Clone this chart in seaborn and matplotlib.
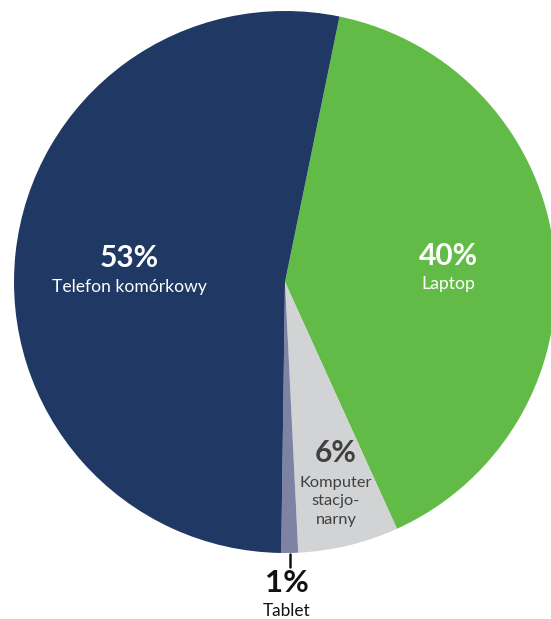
import matplotlib
matplotlib.use("Agg")
import matplotlib.pyplot as plt
import seaborn as sns

# Device shares (percent), drawn clockwise starting with Laptop
categories = ["Laptop", "Komputer\nstacjo-\nnarny", "Tablet", "Telefon komórkowy"]
shares = [40, 6, 1, 53]
colors = ["#63BB47", "#D2D3D5", "#7E83A4", "#1F3864"]

sns.set_theme(style="white")
plt.rcParams["font.family"] = ["Lato", "DejaVu Sans"]

W, H, DPI = 551, 619, 100
fig = plt.figure(figsize=(W / DPI, H / DPI), dpi=DPI)
ax = fig.add_axes([0, 0, 1, 1])

# pie centre and radius in pixels
cx, cy, r = 285, 282, 271

wedges, _ = ax.pie(
    shares,
    colors=sns.color_palette(colors),
    startangle=78.4,
    counterclock=False,
    radius=1.0,
    wedgeprops=dict(linewidth=0),
)

ax.set_xlim(-cx / r, (W - cx) / r)
ax.set_ylim(-(H - cy) / r, cy / r)
ax.set_aspect("auto")
ax.axis("off")


def px(x, y):
    """pixel position (from top-left) -> data coordinates"""
    return (x - cx) / r, (cy - y) / r


def label(x, y, pct, name, color, pct_size, name_size, gap, line_gap=19):
    ax.text(*px(x, y), f"{pct}%", ha="center", va="center",
            fontsize=pct_size, fontweight="bold", color=color)
    for i, line in enumerate(name.split("\n")):
        ax.text(*px(x, y + gap + i * line_gap), line, ha="center", va="center",
                fontsize=name_size, color=color)


label(129, 258, shares[3], categories[3], "white", 21.5, 12.6, 29)
label(448, 256, shares[0], categories[0], "white", 21.5, 12.6, 28)
label(336, 453, shares[1], categories[1], "#404040", 21.5, 11.8, 30, 18.5)
label(287, 583, shares[2], categories[2], "#111111", 22.5, 12.4, 28)

# leader line from the Tablet slice to its label
ax.plot(*zip(px(290, 554), px(290, 567)), color="#111111", lw=1.8)

fig.savefig("out.png", dpi=DPI)
